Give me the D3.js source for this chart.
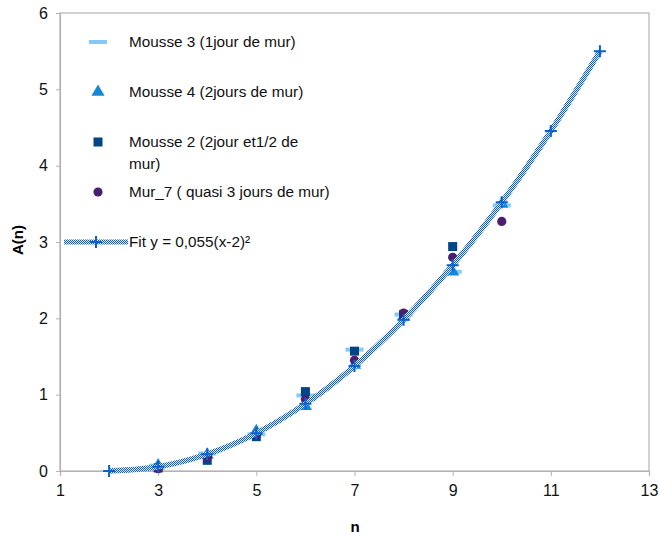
<!DOCTYPE html>
<html><head><meta charset="utf-8">
<script src="https://cdn.jsdelivr.net/npm/d3@7"></script>
<style>body{margin:0;background:#fff}svg{display:block;font-family:"Liberation Sans",Arial,sans-serif}</style>
</head><body><svg id="c" width="660" height="538"></svg>
<script>
const xTicks = [1,3,5,7,9,11,13];
const yTicks = [0,1,2,3,4,5,6];
const mousse3X = [3,4,5,6,7,8,9,10];
const mousse3Y = [0.07,0.23,0.48,0.99,1.59,2.05,2.61,3.48];
const mousse4X = [3,4,5,6,7,8,9,10];
const mousse4Y = [0.07,0.21,0.52,0.85,1.39,2.02,2.61,3.50];
const mousse2X = [3,4,5,6,7,8,9];
const mousse2Y = [0.04,0.14,0.45,1.04,1.57,2.05,2.94];
const mur7X = [3,4,5,6,7,8,9,10];
const mur7Y = [0.03,0.18,0.48,0.94,1.45,2.07,2.80,3.27];
const fitX = [2,3,4,5,6,7,8,9,10,11,12];
const fitY = [0,0.055,0.22,0.495,0.88,1.375,1.98,2.695,3.52,4.455,5.5];
const legendLabels = ["Mousse 3 (1jour de mur)","Mousse 4 (2jours de mur)",["Mousse 2 (2jour et1/2 de","mur)"],"Mur_7 ( quasi 3 jours de mur)","Fit y = 0,055(x-2)²"];

const svg = d3.select("#c");
const L=60, R=649, T=13, B=471;
const x = d3.scaleLinear().domain([1,13]).range([L,R]);
const y = d3.scaleLinear().domain([0,6]).range([B,T]);
const axisCol="#b3b3b3";

const c3="#83caf7", c4="#1688d8", c2="#004586", c7="#4b1f6f", cf="#0a62d0";

const defs = svg.append("defs");
const pat = defs.append("pattern").attr("id","dith").attr("patternUnits","userSpaceOnUse").attr("width",2).attr("height",2);
pat.append("rect").attr("width",2).attr("height",2).attr("fill","#e4eefa");
pat.append("rect").attr("x",0).attr("y",0).attr("width",1).attr("height",1).attr("fill",cf);
pat.append("rect").attr("x",1).attr("y",1).attr("width",1).attr("height",1).attr("fill",cf);

// frame
svg.append("rect").attr("x",L).attr("y",T).attr("width",R-L).attr("height",B-T)
  .attr("fill","none").attr("stroke",axisCol).attr("stroke-width",1.2);

const xa = svg.append("g").attr("transform",`translate(0,${B})`)
  .call(d3.axisBottom(x).tickValues(xTicks).tickSize(5).tickPadding(9).tickFormat(d3.format("d")));
const ya = svg.append("g").attr("transform",`translate(${L},0)`)
  .call(d3.axisLeft(y).tickValues(yTicks).tickSize(4).tickPadding(8).tickFormat(d3.format("d")));
[xa,ya].forEach(a=>{
  a.select(".domain").attr("stroke",axisCol).attr("stroke-width",1.2);
  a.selectAll(".tick line").attr("stroke",axisCol);
  a.selectAll("text").attr("font-size",16).attr("fill","#111").attr("font-family","Liberation Sans, Arial, sans-serif");
});

svg.append("text").attr("x",355).attr("y",532).attr("text-anchor","middle")
  .attr("font-size",15).attr("font-weight","bold").text("n");
svg.append("text").attr("transform","translate(23,240) rotate(-90)").attr("text-anchor","middle")
  .attr("font-size",15).attr("font-weight","bold").text("A(n)");

function dash(g,cx,cy){g.append("rect").attr("x",cx-9).attr("y",cy-2).attr("width",18).attr("height",4).attr("fill",c3);}
function tri(g,cx,cy){g.append("path").attr("d",d3.symbol(d3.symbolTriangle,75)()).attr("transform",`translate(${cx},${cy})`).attr("fill",c4);}
function sq(g,cx,cy){g.append("rect").attr("x",cx-4.5).attr("y",cy-4.5).attr("width",9).attr("height",9).attr("fill",c2);}
function circ(g,cx,cy){g.append("circle").attr("cx",cx).attr("cy",cy).attr("r",4.6).attr("fill",c7);}
function cross(g,cx,cy){g.append("path").attr("d",`M${cx-6},${cy}H${cx+6}M${cx},${cy-6}V${cy+6}`).attr("stroke",cf).attr("stroke-width",2);}
function fitLine(g,x1,x2,yy){
  g.append("rect").attr("x",x1).attr("y",yy-2.5).attr("width",x2-x1).attr("height",5).attr("fill","url(#dith)");
}

const plot = svg.append("g");
const fitPts = fitX.map((d,i)=>[x(d),y(fitY[i])]);
const lineGen = d3.line().curve(d3.curveCatmullRom);
mousse3X.forEach((d,i)=>dash(plot,x(d),y(mousse3Y[i])));
mousse4X.forEach((d,i)=>tri(plot,x(d),y(mousse4Y[i])));
mousse2X.forEach((d,i)=>sq(plot,x(d),y(mousse2Y[i])));
mur7X.forEach((d,i)=>circ(plot,x(d),y(mur7Y[i])));
plot.append("path").attr("d",lineGen(fitPts)).attr("fill","none").attr("stroke","url(#dith)").attr("stroke-width",5.5);
fitPts.forEach(p=>cross(plot,p[0],p[1]));

// legend
const lg = svg.append("g");
const rowsY=[42,92,142,192,242];
const mk=[dash,tri,sq,circ];
rowsY.forEach((ry,i)=>{
  if(i<4) mk[i](lg,98,ry);
  else { fitLine(lg,64,128,ry); cross(lg,96,ry); }
  const t = lg.append("text").attr("x",129).attr("font-size",15.3).attr("fill","#111");
  const lab = legendLabels[i];
  if(Array.isArray(lab)){
    t.append("tspan").attr("x",129).attr("y",ry+5).text(lab[0]);
    t.append("tspan").attr("x",129).attr("y",ry+27).text(lab[1]);
  } else t.attr("y",ry+5).text(lab);
});
</script></body></html>
